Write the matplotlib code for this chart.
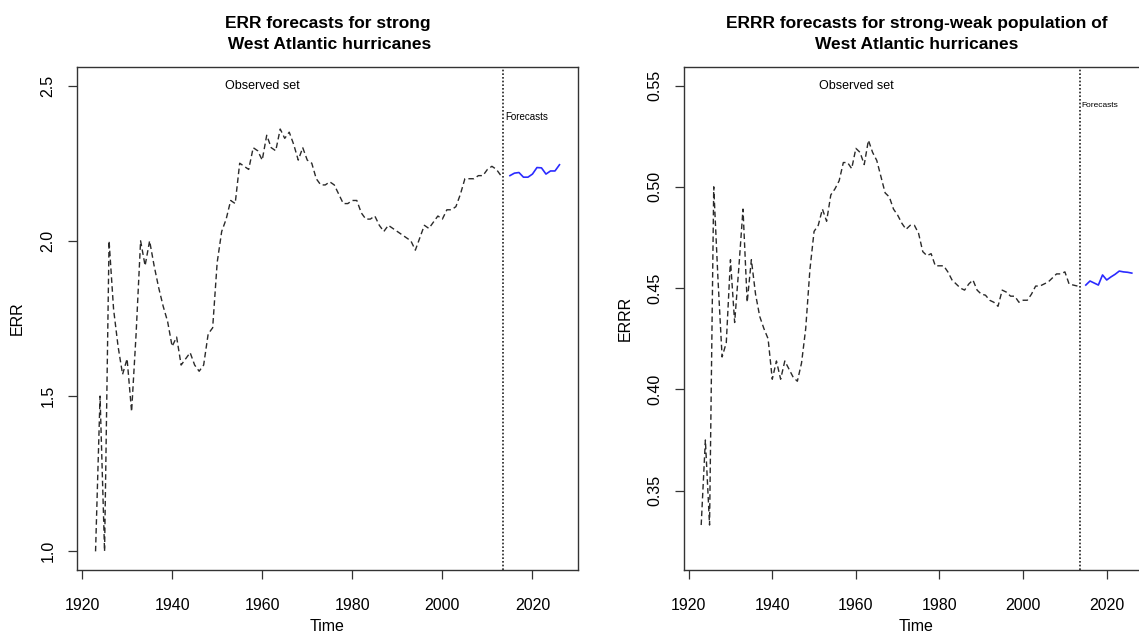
import numpy as np
import matplotlib.pyplot as plt

# yearly ratios, observed period and model forecasts
years_obs = np.arange(1923, 2014)
years_fc = np.arange(2015, 2027)
forecast_start = 2013.5

err_obs = [1.00, 1.50, 1.00, 2.00, 1.78, 1.66, 1.57, 1.62, 1.45, 1.70,
           2.00, 1.92, 2.00, 1.92, 1.85, 1.79, 1.74, 1.66, 1.69, 1.60,
           1.62, 1.64, 1.60, 1.58, 1.60, 1.70, 1.72, 1.93, 2.03, 2.07,
           2.13, 2.12, 2.25, 2.24, 2.23, 2.30, 2.29, 2.26, 2.34, 2.30,
           2.29, 2.36, 2.33, 2.35, 2.31, 2.26, 2.30, 2.26, 2.25, 2.20,
           2.18, 2.18, 2.19, 2.18, 2.15, 2.12, 2.12, 2.13, 2.13, 2.09,
           2.07, 2.07, 2.08, 2.05, 2.03, 2.05, 2.04, 2.03, 2.02, 2.01,
           2.00, 1.97, 2.01, 2.05, 2.04, 2.06, 2.08, 2.07, 2.10, 2.10,
           2.11, 2.15, 2.20, 2.20, 2.20, 2.21, 2.21, 2.23, 2.24, 2.23,
           2.21]
err_fc = [2.210, 2.218, 2.220, 2.205, 2.205, 2.215, 2.236, 2.235, 2.215,
          2.225, 2.225, 2.245]

errr_obs = [0.333, 0.375, 0.333, 0.500, 0.455, 0.416, 0.423, 0.464, 0.433,
            0.460, 0.489, 0.443, 0.464, 0.447, 0.436, 0.430, 0.425, 0.405,
            0.414, 0.405, 0.414, 0.410, 0.406, 0.404, 0.413, 0.430, 0.459,
            0.478, 0.481, 0.489, 0.483, 0.496, 0.499, 0.503, 0.512, 0.512,
            0.509, 0.519, 0.517, 0.511, 0.523, 0.517, 0.513, 0.505, 0.497,
            0.495, 0.489, 0.486, 0.482, 0.479, 0.481, 0.481, 0.477, 0.468,
            0.466, 0.467, 0.461, 0.461, 0.461, 0.458, 0.454, 0.452, 0.450,
            0.449, 0.452, 0.454, 0.449, 0.447, 0.4465, 0.444, 0.443, 0.441,
            0.449, 0.448, 0.446, 0.446, 0.443, 0.444, 0.444, 0.447, 0.451,
            0.451, 0.452, 0.453, 0.455, 0.457, 0.457, 0.458, 0.452, 0.4515,
            0.451]
errr_fc = [0.4515, 0.4535, 0.4525, 0.4515, 0.4565, 0.4540, 0.4555, 0.4568,
           0.4584, 0.4580, 0.4578, 0.4574]

plt.rcParams['font.family'] = ['Liberation Sans', 'DejaVu Sans']


def r_range(lo, hi):
    # pad the range by 4% on each side, like R does
    pad = 0.04 * (hi - lo)
    return lo - pad, hi + pad


def panel(ax, obs, fc, ylim, title, ylabel, obs_y, fc_y, fc_size):
    ax.plot(years_obs, obs, color='#2a2a2a', lw=1.0, dashes=(4.0, 2.4))
    ax.plot(years_fc, fc, color='#2b2bff', lw=1.2)
    ax.axvline(forecast_start, color='#222222', lw=1.2, ls=(0, (1, 1.2)))
    ax.text(1960, obs_y, 'Observed set', ha='center', va='center', fontsize=9)
    ax.text(forecast_start + 0.5, fc_y, 'Forecasts', ha='left', va='center',
            fontsize=fc_size)

    ax.set_xlim(r_range(1923, 2026))
    ax.set_ylim(r_range(*ylim))
    ax.set_xticks([1920, 1940, 1960, 1980, 2000, 2020])
    ax.tick_params(direction='out', length=6.5, width=0.9, labelsize=11.5,
                   color='#333333')
    ax.tick_params(axis='x', pad=14)
    ax.tick_params(axis='y', pad=9)
    for s in ax.spines.values():
        s.set_linewidth(1.0)
        s.set_color('#333333')

    ax.set_title(title, fontsize=12.5, fontweight='bold', pad=13,
                 linespacing=1.45)
    ax.set_xlabel('Time', fontsize=11.5)
    ax.set_ylabel(ylabel, fontsize=11.5)
    ax.xaxis.set_label_coords(0.5, -0.098)


fig = plt.figure(figsize=(11.39, 6.40), dpi=100)
ax1 = fig.add_axes([0.0676, 0.1094, 0.4399, 0.786])
ax2 = fig.add_axes([0.6005, 0.1094, 0.4083, 0.786])

panel(ax1, err_obs, err_fc, (1.0, 2.5),
      'ERR forecasts for strong\n West Atlantic hurricanes', 'ERR',
      2.5, 2.40, 7)
ax1.set_yticks([1.0, 1.5, 2.0, 2.5])
ax1.set_yticklabels(['1.0', '1.5', '2.0', '2.5'], rotation=90, va='center')
ax1.yaxis.set_label_coords(-0.105, 0.5)

panel(ax2, errr_obs, errr_fc, (0.32, 0.55),
      'ERRR forecasts for strong-weak population of\nWest Atlantic hurricanes',
      'ERRR', 0.55, 0.540, 6)
ax2.set_yticks([0.35, 0.40, 0.45, 0.50, 0.55])
ax2.set_yticklabels(['0.35', '0.40', '0.45', '0.50', '0.55'], rotation=90,
                    va='center')
ax2.yaxis.set_label_coords(-0.11, 0.5)

fig.savefig('out.png', dpi=100)
